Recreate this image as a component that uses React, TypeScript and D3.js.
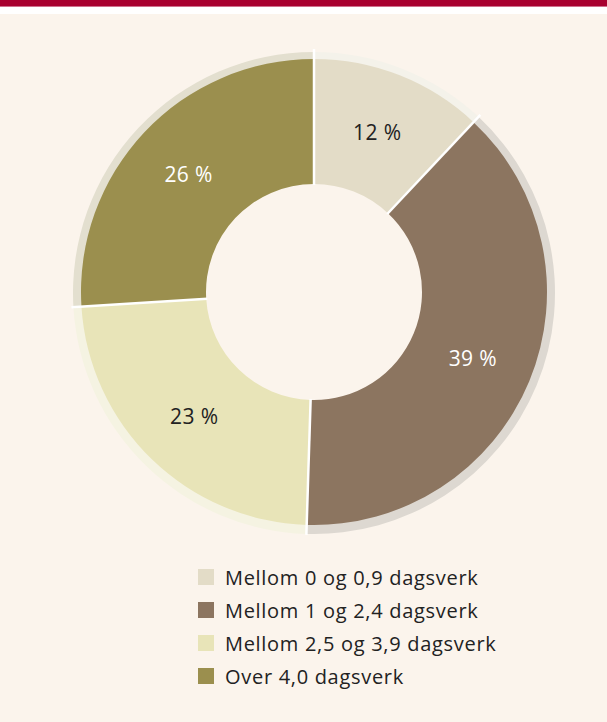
import React from "react";
import * as d3 from "d3";

const categories = [
  "Mellom 0 og 0,9 dagsverk",
  "Mellom 1 og 2,4 dagsverk",
  "Mellom 2,5 og 3,9 dagsverk",
  "Over 4,0 dagsverk",
];
const values = [12, 38.5, 23.5, 26];
const valueLabels = ["12 %", "39 %", "23 %", "26 %"];
const sliceColors = ["#e3dcc7", "#8c7560", "#e8e4b8", "#9b8f4e"];
const rimColors = ["#f4f2ea", "#ddd8d1", "#f5f3e2", "#e3dfcf"];
const labelColors = ["#222222", "#ffffff", "#222222", "#ffffff"];

const W = 607;
const H = 722;

export default function App() {
  const cx = 314;
  const cy = 292;
  const rInner = 108;
  const rOuter = 233;
  const rRim = 241;
  const rLabel = 172;

  const pie = d3.pie<number>().value((d) => d).sort(null);
  const arcs = pie(values);
  const sliceArc = d3.arc<d3.PieArcDatum<number>>().innerRadius(rInner).outerRadius(rOuter);
  const rimArc = d3.arc<d3.PieArcDatum<number>>().innerRadius(rOuter - 4).outerRadius(rRim);
  const labelArc = d3.arc<d3.PieArcDatum<number>>().innerRadius(rLabel).outerRadius(rLabel);

  const legendY = d3.scaleBand<number>().domain(d3.range(categories.length)).range([569, 701]);

  return (
    <div style={{ position: "absolute", left: 0, top: 0, width: W, height: H }}>
      <svg width={W} height={H} style={{ display: "block" }}>
        <rect x={0} y={0} width={W} height={H} fill="#ffffff" />
        <rect x={0} y={0} width={W} height={6} fill="#a8002f" />
        <rect x={0} y={6} width={W} height={1} fill="#cf6f8c" />
        <rect x={0} y={14} width={W} height={H - 14} fill="#fbf4ec" />
        <g transform={`translate(${cx},${cy + 1})`}>
          {arcs.map((a, i) => (
            <path key={"r" + i} d={rimArc(a) || ""} fill={rimColors[i]} />
          ))}
        </g>
        <g transform={`translate(${cx},${cy})`}>
          {arcs.map((a, i) => (
            <path key={"s" + i} d={sliceArc(a) || ""} fill={sliceColors[i]} />
          ))}
          {arcs.map((a, i) => {
            const ang = a.startAngle;
            const x1 = Math.sin(ang) * (rInner - 1);
            const y1 = -Math.cos(ang) * (rInner - 1);
            const x2 = Math.sin(ang) * (rRim + 2);
            const y2 = -Math.cos(ang) * (rRim + 2);
            return <line key={"l" + i} x1={x1} y1={y1} x2={x2} y2={y2} stroke="#ffffff" strokeWidth={2.5} />;
          })}
          {arcs.map((a, i) => {
            const [x, y] = labelArc.centroid(a);
            return (
              <text
                key={"t" + i}
                x={x}
                y={y}
                textAnchor="middle"
                dominantBaseline="central"
                fontFamily="'Open Sans', 'Noto Sans', sans-serif"
                fontSize={21}
                letterSpacing={0.4}
                fill={labelColors[i]}
              >
                {valueLabels[i]}
              </text>
            );
          })}
        </g>
        <g>
          {categories.map((c, i) => {
            const y = legendY(i) || 0;
            return (
              <g key={"lg" + i} transform={`translate(198,${y})`}>
                <rect x={0} y={0} width={16} height={16} fill={sliceColors[i]} />
                <text
                  x={27}
                  y={8}
                  dominantBaseline="central"
                  fontFamily="'Open Sans', 'Noto Sans', sans-serif"
                  fontSize={20}
                  letterSpacing={0.7}
                  fill="#222222"
                >
                  {c}
                </text>
              </g>
            );
          })}
        </g>
      </svg>
    </div>
  );
}
